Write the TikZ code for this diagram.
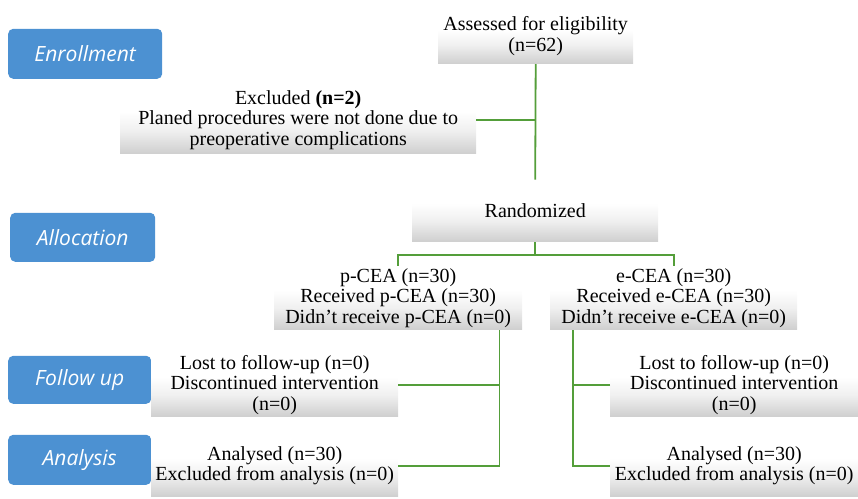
\documentclass[tikz,border=0pt]{standalone}
\usepackage{fontspec}
\setmainfont{Liberation Serif}
\newfontfamily\labfont{Open Sans}
\usetikzlibrary{positioning,calc}
\definecolor{lblue}{RGB}{76,145,210}
\definecolor{lgreen}{RGB}{84,158,58}
\pgfdeclareverticalshading{gboxshade}{100bp}{color(0bp)=(gray!40); color(25bp)=(gray!38); color(42bp)=(gray!12); color(56bp)=(white); color(100bp)=(white)}
\tikzset{
  phase/.style={fill=lblue, rounded corners=5pt, text=white, anchor=south west,
    font=\labfont\itshape\fontsize{21}{24}\selectfont, inner sep=0pt},
  gbox/.style={anchor=south west, inner sep=0pt, align=center,
    shading=gboxshade,
    font=\fontsize{20}{20.5}\selectfont},
  conn/.style={draw=lgreen, line width=1.8pt}
}
\begin{document}
\begin{tikzpicture}[x=1pt,y=-1pt]
\useasboundingbox (0,0) rectangle (858,498);
% phase labels
\node[phase, minimum width=154, minimum height=50] (enr) at (8,79) {Enrollment};
\node[phase, minimum width=145, minimum height=49] (alo) at (10,262) {Allocation};
\node[phase, minimum width=143, minimum height=48] (fol) at (8,404) {Follow up};
\node[phase, minimum width=143, minimum height=50] (ana) at (8,485) {Analysis};
% grey boxes
\node[gbox, minimum width=195, minimum height=55] (assess) at (438,64) {Assessed for eligibility\\(n=62)};
\node[gbox, minimum width=356, minimum height=68] (excl) at (120,154) {Excluded \textbf{(n=2)}\\Planed procedures were not done due to\\preoperative complications};
\node[gbox, minimum width=246, minimum height=62] (rand) at (412,242) {Randomized};
\node[gbox, minimum width=248, minimum height=64] (pcea) at (274,330) {p-CEA (n=30)\\Received p-CEA (n=30)\\Didn't receive p-CEA (n=0)};
\node[gbox, minimum width=247, minimum height=64] (ecea) at (550,330) {e-CEA (n=30)\\Received e-CEA (n=30)\\Didn't receive e-CEA (n=0)};
\node[gbox, minimum width=247, minimum height=64] (fuL) at (151,417) {Lost to follow-up (n=0)\\Discontinued intervention\\(n=0)};
\node[gbox, minimum width=247, minimum height=62] (anL) at (151,497) {Analysed (n=30)\\Excluded from analysis (n=0)};
\node[gbox, minimum width=248, minimum height=64] (fuR) at (610,417) {Lost to follow-up (n=0)\\Discontinued intervention\\(n=0)};
\node[gbox, minimum width=248, minimum height=62] (anR) at (610,497) {Analysed (n=30)\\Excluded from analysis (n=0)};
% connectors
\draw[conn] (assess.south) -- (rand.north);
\draw[conn] (excl.east) -- (excl.east -| assess.south);
\coordinate (split) at ($(rand.south)+(0,13)$);
\draw[conn] (rand.south) -- (split);
\draw[conn] (pcea.north) |- (split) -| (ecea.north);
\coordinate (pdrop) at ($(pcea.south east)+(-23,0)$);
\draw[conn] (pdrop) |- (anL.east);
\draw[conn] (fuL.east) -- (fuL.east -| pdrop);
\coordinate (edrop) at ($(ecea.south west)+(23,0)$);
\draw[conn] (edrop) |- (anR.west);
\draw[conn] (fuR.west) -- (fuR.west -| edrop);
\end{tikzpicture}
\end{document}
